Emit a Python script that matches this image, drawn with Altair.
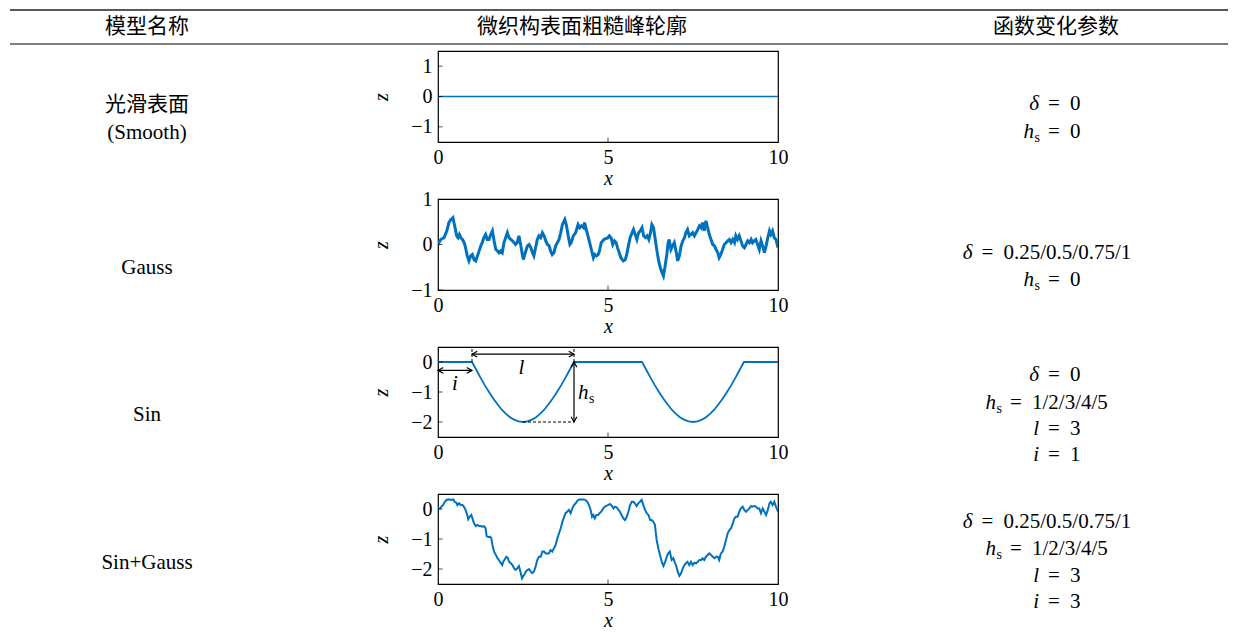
import altair as alt
import pandas as pd

BLUE = "#0072bd"
SERIF = "Liberation Serif"
CJK = "Noto Sans CJK SC"

# ---------------- data ----------------
smooth_x = [0, 10]
smooth_z = [0, 0]

gauss_x = [0.00, 0.08, 0.18, 0.26, 0.32, 0.37, 0.44, 0.49, 0.55, 0.59, 0.63, 0.67, 0.72, 0.77, 0.81, 0.86, 0.91, 0.96,
           1.01, 1.06, 1.11, 1.16, 1.21, 1.26, 1.30, 1.35, 1.40, 1.45, 1.50, 1.55, 1.60, 1.65, 1.70, 1.75, 1.79, 1.84,
           1.89, 1.94, 1.99, 2.04, 2.09, 2.14, 2.19, 2.24, 2.28, 2.33, 2.38, 2.43, 2.48, 2.51, 2.55, 2.63, 2.68, 2.73,
           2.78, 2.82, 2.87, 2.92, 2.97, 3.02, 3.07, 3.12, 3.17, 3.22, 3.27, 3.31, 3.36, 3.41, 3.46, 3.51, 3.56, 3.61,
           3.66, 3.73, 3.78, 3.83, 3.88, 3.92, 3.98, 4.05, 4.12, 4.17, 4.22, 4.28, 4.31, 4.36, 4.41, 4.46, 4.51, 4.57,
           4.61, 4.66, 4.71, 4.75, 4.80, 4.88, 5.00,
           5.04, 5.09, 5.14, 5.19, 5.24, 5.28, 5.33, 5.38, 5.45, 5.51, 5.55, 5.60, 5.65, 5.71, 5.75, 5.80, 5.85, 5.90,
           5.95, 6.00, 6.05, 6.10, 6.15, 6.20, 6.25, 6.29, 6.34, 6.39, 6.44, 6.49, 6.54, 6.59, 6.63, 6.68, 6.73, 6.77,
           6.80, 6.85, 6.90, 6.95, 7.00, 7.05, 7.10, 7.15, 7.20, 7.25, 7.29, 7.34, 7.39, 7.44, 7.49, 7.54, 7.59, 7.64,
           7.69, 7.74, 7.78, 7.83, 7.88, 7.93, 7.98, 8.03, 8.08, 8.13, 8.18, 8.23, 8.27, 8.32, 8.37, 8.42, 8.47, 8.52,
           8.57, 8.62, 8.67, 8.72, 8.76, 8.81, 8.86, 8.91, 8.96, 9.01, 9.06, 9.11, 9.16, 9.21, 9.25, 9.30, 9.35, 9.40,
           9.45, 9.50, 9.55, 9.60, 9.65, 9.70, 9.75, 9.79, 9.84, 9.89, 9.94, 10.00]
gauss_z = [0.00, 0.11, 0.15, 0.30, 0.48, 0.54, 0.59, 0.41, 0.19, 0.15, 0.22, 0.15, 0.11, 0.04, -0.07, -0.25, -0.36, -0.25,
           -0.22, -0.33, -0.36, -0.25, -0.14, -0.03, 0.04, 0.15, 0.22, 0.11, 0.11, 0.22, 0.30, 0.08, -0.11, -0.14, -0.18, -0.14,
           -0.18, 0.04, 0.15, 0.26, 0.15, 0.11, 0.08, 0.04, 0.00, 0.04, 0.19, 0.00, -0.22, -0.33, -0.22, -0.03, 0.00, -0.07,
           -0.18, -0.25, -0.07, 0.11, 0.19, 0.15, 0.26, 0.19, 0.08, 0.00, -0.03, -0.14, -0.22, -0.18, -0.03, 0.04, 0.11, 0.26,
           0.44, 0.55, 0.41, 0.19, 0.00, 0.04, 0.19, 0.26, 0.44, 0.37, 0.41, 0.37, 0.48, 0.33, 0.19, 0.04, -0.11, -0.29,
           -0.22, -0.25, -0.22, -0.14, 0.04, 0.11, 0.15,
           0.19, 0.15, 0.00, 0.08, 0.04, -0.07, -0.18, -0.29, -0.36, -0.33, -0.22, -0.03, 0.15, 0.26, 0.33, 0.22, 0.11, 0.26,
           0.30, 0.37, 0.19, 0.15, 0.19, 0.11, 0.26, 0.44, 0.37, 0.11, -0.14, -0.36, -0.51, -0.62, -0.69, -0.47, -0.22, 0.04,
           0.11, -0.11, -0.03, 0.04, -0.14, -0.36, -0.25, -0.03, 0.08, 0.15, 0.26, 0.33, 0.19, 0.22, 0.26, 0.19, 0.26, 0.33,
           0.41, 0.37, 0.48, 0.30, 0.52, 0.37, 0.22, 0.11, 0.00, -0.03, -0.11, -0.18, -0.29, -0.22, -0.11, 0.00, 0.04, 0.08,
           0.11, 0.04, 0.11, 0.04, 0.19, 0.11, 0.19, 0.08, -0.03, -0.07, 0.00, 0.08, 0.04, 0.11, 0.04, 0.08, 0.11, 0.00,
           -0.11, 0.08, -0.03, -0.18, -0.03, 0.15, 0.30, 0.22, 0.30, 0.15, 0.11, -0.07]

sin_x = [0.0, 1.0, 1.125, 1.25, 1.375, 1.5, 1.625, 1.75, 1.875, 2.0, 2.125, 2.25, 2.375, 2.5, 2.625, 2.75, 2.875,
         3.0, 3.125, 3.25, 3.375, 3.5, 3.625, 3.75, 3.875, 4.0,
         6.0, 6.125, 6.25, 6.375, 6.5, 6.625, 6.75, 6.875, 7.0, 7.125, 7.25, 7.375, 7.5, 7.625, 7.75, 7.875,
         8.0, 8.125, 8.25, 8.375, 8.5, 8.625, 8.75, 8.875, 9.0, 10.0]
sin_z = [0.0, 0.0, -0.26, -0.52, -0.77, -1.0, -1.22, -1.41, -1.59, -1.73, -1.85, -1.93, -1.98, -2.0, -1.98, -1.93, -1.85,
         -1.73, -1.59, -1.41, -1.22, -1.0, -0.77, -0.52, -0.26, 0.0,
         0.0, -0.26, -0.52, -0.77, -1.0, -1.22, -1.41, -1.59, -1.73, -1.85, -1.93, -1.98, -2.0, -1.98, -1.93, -1.85,
         -1.73, -1.59, -1.41, -1.22, -1.0, -0.77, -0.52, -0.26, 0.0, 0.0]

sg_x = [0.00, 0.06, 0.10, 0.15, 0.20, 0.25, 0.32, 0.39, 0.45, 0.49, 0.54, 0.57, 0.62, 0.67, 0.72, 0.76, 0.81, 0.86,
        0.89, 0.93, 0.98, 1.03, 1.06, 1.11, 1.16, 1.21, 1.25, 1.30, 1.35, 1.40, 1.43, 1.48, 1.53, 1.57, 1.60, 1.65,
        1.70, 1.75, 1.79, 1.84, 1.89, 1.92, 1.96, 2.01, 2.06, 2.09, 2.14, 2.19, 2.24, 2.28, 2.33, 2.38, 2.43, 2.47,
        2.51, 2.55, 2.58, 2.63, 2.68, 2.73, 2.77, 2.82, 2.87, 2.92, 2.97, 3.02, 3.07, 3.12, 3.17, 3.22, 3.26, 3.31,
        3.36, 3.41, 3.46, 3.51, 3.56, 3.61, 3.66, 3.71, 3.75, 3.80, 3.85, 3.90, 3.95, 4.00, 4.05, 4.10, 4.15, 4.20,
        4.25, 4.29, 4.34, 4.39, 4.44, 4.49, 4.53, 4.57, 4.61, 4.66, 4.71, 4.75, 4.80, 4.86, 4.93, 5.00,
        5.06, 5.12, 5.16, 5.21, 5.25, 5.30, 5.35, 5.40, 5.45, 5.50, 5.55, 5.60, 5.65, 5.70, 5.75, 5.79, 5.84, 5.89,
        5.94, 5.99, 6.04, 6.09, 6.14, 6.19, 6.24, 6.28, 6.33, 6.38, 6.43, 6.48, 6.53, 6.58, 6.63, 6.68, 6.73, 6.77,
        6.82, 6.87, 6.92, 6.96, 7.00, 7.05, 7.10, 7.15, 7.20, 7.25, 7.29, 7.34, 7.39, 7.44, 7.49, 7.54, 7.59, 7.64,
        7.69, 7.74, 7.78, 7.83, 7.88, 7.93, 7.98, 8.03, 8.08, 8.13, 8.18, 8.23, 8.27, 8.32, 8.37, 8.42, 8.47, 8.52,
        8.57, 8.62, 8.67, 8.72, 8.76, 8.81, 8.86, 8.91, 8.96, 9.01, 9.06, 9.11, 9.16, 9.21, 9.25, 9.30, 9.35, 9.40,
        9.45, 9.50, 9.55, 9.60, 9.65, 9.70, 9.75, 9.79, 9.84, 9.89, 9.94, 10.00]
sg_z = [0.02, 0.02, 0.08, 0.13, 0.24, 0.30, 0.32, 0.30, 0.32, 0.24, 0.21, 0.13, 0.19, 0.13, 0.13, 0.08, -0.03, -0.20,
        -0.34, -0.26, -0.20, -0.37, -0.48, -0.57, -0.53, -0.57, -0.57, -0.59, -0.57, -0.64, -0.90, -0.94, -0.92, -0.98,
        -1.20, -1.42, -1.53, -1.64, -1.70, -1.79, -1.87, -1.76, -1.68, -1.59, -1.64, -1.76, -1.81, -1.87, -1.98, -2.03,
        -1.98, -1.90, -2.12, -2.31, -2.23, -2.17, -2.09, -2.03, -2.01, -2.09, -2.14, -2.09, -1.92, -1.70, -1.59, -1.59,
        -1.42, -1.42, -1.48, -1.48, -1.48, -1.37, -1.42, -1.31, -1.20, -0.98, -0.81, -0.64, -0.42, -0.26, -0.14, -0.09,
        -0.03, -0.14, 0.02, 0.13, 0.19, 0.28, 0.32, 0.32, 0.32, 0.32, 0.30, 0.24, 0.13, -0.03, -0.26, -0.20, -0.31,
        -0.20, -0.20, -0.14, -0.09, 0.02, 0.10, 0.13,
        0.17, 0.10, 0.02, 0.08, 0.06, -0.01, -0.09, -0.20, -0.31, -0.37, -0.26, -0.09, 0.13, 0.24, 0.24, 0.19, 0.10,
        0.19, 0.24, 0.30, 0.13, -0.03, -0.14, -0.20, -0.37, -0.37, -0.42, -0.53, -1.03, -1.31, -1.53, -1.76, -1.90,
        -1.76, -1.59, -1.48, -1.42, -1.70, -1.64, -1.76, -1.87, -2.09, -2.23, -2.14, -1.98, -1.87, -1.81, -1.76, -1.87,
        -1.76, -1.87, -1.79, -1.81, -1.76, -1.70, -1.70, -1.64, -1.70, -1.59, -1.53, -1.48, -1.53, -1.59, -1.64, -1.59,
        -1.59, -1.70, -1.48, -1.42, -1.26, -1.03, -0.81, -0.70, -0.64, -0.48, -0.31, -0.26, -0.26, -0.09, 0.02, 0.08,
        -0.03, -0.09, -0.03, 0.02, 0.10, 0.08, 0.10, 0.08, 0.02, 0.02, -0.14, 0.02, -0.09, -0.20, -0.03, 0.19, 0.24,
        0.13, 0.24, 0.08, -0.09]

# table texts
headers = ["模型名称", "微织构表面粗糙峰轮廓", "函数变化参数"]
model_names = [["光滑表面", "(Smooth)"], ["Gauss"], ["Sin"], ["Sin+Gauss"]]
# parameter lines: (lhs symbol, rhs text)
params = [
    [("delta", "0"), ("h", "0")],
    [("delta", "0.25/0.5/0.75/1"), ("h", "0")],
    [("delta", "0"), ("h", "1/2/3/4/5"), ("l", "3"), ("i", "1")],
    [("delta", "0.25/0.5/0.75/1"), ("h", "1/2/3/4/5"), ("l", "3"), ("i", "3")],
]
y_domains = [[-1.5, 1.5], [-1, 1], [-2.5, 0.5], [-2.5, 0.5]]
y_ticks = [[-1, 0, 1], [-1, 0, 1], [-2, -1, 0], [-2, -1, 0]]
x_ticks = [0, 5, 10]

# ---------------- layout (pixels) ----------------
PW = 340
HEIGHTS = [91, 91, 90, 90]
SPACING = 57
ROW_TOPS = [51, 199, 347, 494]        # page y of plot tops
PLOT_LEFT = 438                        # page x of plot left
NAME_CX = 147 - PLOT_LEFT
NAME_Y = [[105, 133], [268], [415], [563]]
PARAM_Y = [[104, 132], [253, 280], [375, 403, 429, 455], [522, 549, 576, 602]]
EQ_X = {"delta0": 1054, "deltaL": 987.5, "h0": 1054, "hL": 1016, "l": 1054, "i": 1054}
LINE_W = [1.5, 3.0, 1.8, 2.0]
RULE_LEFT, RULE_RIGHT = 10, 1228
TOP_RULE_Y, MID_RULE_Y, HEADER_Y = 10, 44, 27

# strip a trailing ".0" from default tick labels
LABEL_EXPR = "replace(datum.label, '.0', '')"


def txt(t, px, py, font=SERIF, size=21, style="normal", align="center", dy=0, baseline="middle"):
    return alt.Chart(alt.Data(values=[{}])).mark_text(
        text=t, font=font, fontSize=size, fontStyle=style, align=align,
        baseline=baseline, dy=dy, color="black"
    ).encode(x=alt.value(px), y=alt.value(py))


def param_line(sym, rhs, page_y, top):
    py = page_y - top
    if sym == "delta":
        eq = EQ_X["delta0"] if rhs == "0" else EQ_X["deltaL"]
    elif sym == "h":
        eq = EQ_X["h0"] if rhs == "0" else EQ_X["hL"]
    else:
        eq = EQ_X[sym]
    e = eq - PLOT_LEFT
    out = []
    if sym == "delta":
        out.append(txt("δ", e - 15, py, style="italic", align="right"))
    elif sym == "h":
        out.append(txt("h", e - 20, py, style="italic", align="right"))
        out.append(txt("s", e - 14, py, size=14, align="right", dy=6))
    else:
        out.append(txt(sym, e - 15, py, style="italic", align="right"))
    out.append(txt("=", e, py))
    out.append(txt(rhs, e + 16, py, align="left"))
    return out


def enc_x():
    return alt.X("x:Q", scale=alt.Scale(domain=[0, 10], nice=False, zero=False),
                 axis=alt.Axis(values=x_ticks, labelExpr=LABEL_EXPR, labelFlush=False, labelOverlap=False,
                               labelPadding=5, titleY=42, titleBaseline="alphabetic"),
                 title="x")


def enc_y(i):
    return alt.Y("z:Q", scale=alt.Scale(domain=y_domains[i], nice=False, zero=False),
                 axis=alt.Axis(values=y_ticks[i], labelExpr=LABEL_EXPR, labelOverlap=False, labelFlush=False,
                               labelPadding=6, titleX=-51, titleY=HEIGHTS[i] / 2,
                               titleAngle=270, titleAlign="center", titleBaseline="alphabetic"),
                 title="z")


series = [(smooth_x, smooth_z), (gauss_x, gauss_z), (sin_x, sin_z), (sg_x, sg_z)]

rows = []
for i, (sx, sz) in enumerate(series):
    H = HEIGHTS[i]
    top = ROW_TOPS[i]
    df = pd.DataFrame({"x": sx, "z": sz})
    layers = [
        alt.Chart(df).mark_line(color=BLUE, strokeWidth=LINE_W[i], clip=True).encode(x=enc_x(), y=enc_y(i)),
        alt.Chart(pd.DataFrame({"x": [5]})).mark_tick(orient="vertical", size=9, thickness=1, color="black", clip=True)
        .encode(x=enc_x(), y=alt.value(H)),
        alt.Chart(pd.DataFrame({"z": y_ticks[i]})).mark_tick(orient="horizontal", size=9, thickness=1, color="black", clip=True)
        .encode(y=enc_y(i), x=alt.value(0)),
    ]
    if i == 2:
        dashed = pd.DataFrame({"x": [1, 4, 2.5], "x2": [1, 4, 4], "z": [0, 0, -2], "z2": [0.5, 0.5, -2]})
        solid = pd.DataFrame({"x": [1, 0, 4], "x2": [4, 1, 4], "z": [0.26, -0.28, 0], "z2": [0.26, -0.28, -2]})
        RIGHT = "M-1,-0.55L0,0L-1,0.55"
        LEFT = "M1,-0.55L0,0L1,0.55"
        UP = "M-0.55,1L0,0L0.55,1"
        DOWN = "M-0.55,-1L0,0L0.55,-1"
        heads = pd.DataFrame({"x": [1, 4, 0, 1, 4, 4], "z": [0.26, 0.26, -0.28, -0.28, 0, -2],
                              "shp": [LEFT, RIGHT, LEFT, RIGHT, UP, DOWN]})
        labels = pd.DataFrame({"x": [2.45, 0.5], "z": [-0.19, -0.72], "t": ["l", "i"]})
        hlab = pd.DataFrame({"x": [4.12], "z": [-1.02]})
        layers += [
            alt.Chart(dashed).mark_rule(color="black", strokeWidth=1, strokeDash=[3, 2])
            .encode(x=enc_x(), x2="x2:Q", y=enc_y(i), y2="z2:Q"),
            alt.Chart(solid).mark_rule(color="black", strokeWidth=1.2)
            .encode(x=enc_x(), x2="x2:Q", y=enc_y(i), y2="z2:Q"),
            alt.Chart(heads).mark_point(filled=False, color="black", strokeWidth=1.2, size=110, opacity=1)
            .encode(x=enc_x(), y=enc_y(i), shape=alt.Shape("shp:N", scale=None)),
            alt.Chart(labels).mark_text(font=SERIF, fontSize=21, fontStyle="italic", color="black")
            .encode(x=enc_x(), y=enc_y(i), text="t:N"),
            alt.Chart(hlab).mark_text(text="h", font=SERIF, fontSize=21, fontStyle="italic", color="black", align="left")
            .encode(x=enc_x(), y=enc_y(i)),
            alt.Chart(hlab).mark_text(text="s", font=SERIF, fontSize=14, color="black", align="left", dx=11, dy=6)
            .encode(x=enc_x(), y=enc_y(i)),
        ]
    # model name column
    for name, ny in zip(model_names[i], NAME_Y[i]):
        is_cjk = any(ord(c) > 0x2E80 for c in name)
        layers.append(txt(name, NAME_CX, ny - top, font=CJK if is_cjk else SERIF, size=21))
    # parameter column
    for (sym, rhs), py in zip(params[i], PARAM_Y[i]):
        layers += param_line(sym, rhs, py, top)
    if i == 0:
        left_rel = RULE_LEFT - PLOT_LEFT
        right_rel = RULE_RIGHT - PLOT_LEFT
        layers += [
            alt.Chart(alt.Data(values=[{}])).mark_rule(color="#222", strokeWidth=1.5)
            .encode(x=alt.value(left_rel), x2=alt.value(right_rel), y=alt.value(TOP_RULE_Y - top)),
            alt.Chart(alt.Data(values=[{}])).mark_rule(color="black", strokeWidth=1)
            .encode(x=alt.value(left_rel), x2=alt.value(right_rel), y=alt.value(MID_RULE_Y - top)),
            txt(headers[0], 147 - PLOT_LEFT, HEADER_Y - top, font=CJK),
            txt(headers[1], 582 - PLOT_LEFT, HEADER_Y - top, font=CJK),
            txt(headers[2], 1056 - PLOT_LEFT, HEADER_Y - top, font=CJK),
        ]
    rows.append(alt.layer(*layers).properties(width=PW, height=H))

chart = alt.vconcat(*rows, spacing=SPACING, bounds="flush").properties(padding=0).configure_view(
    stroke="black", strokeWidth=1.2
).configure_axis(
    labelFont=SERIF, labelFontSize=20, labelColor="black", ticks=False, tickSize=0, domain=False, grid=False,
    titleFont=SERIF, titleFontSize=20, titleFontStyle="italic", titleFontWeight="normal", titleColor="black"
)

chart.save("out.html", embed_options={"renderer": "svg", "actions": False})
